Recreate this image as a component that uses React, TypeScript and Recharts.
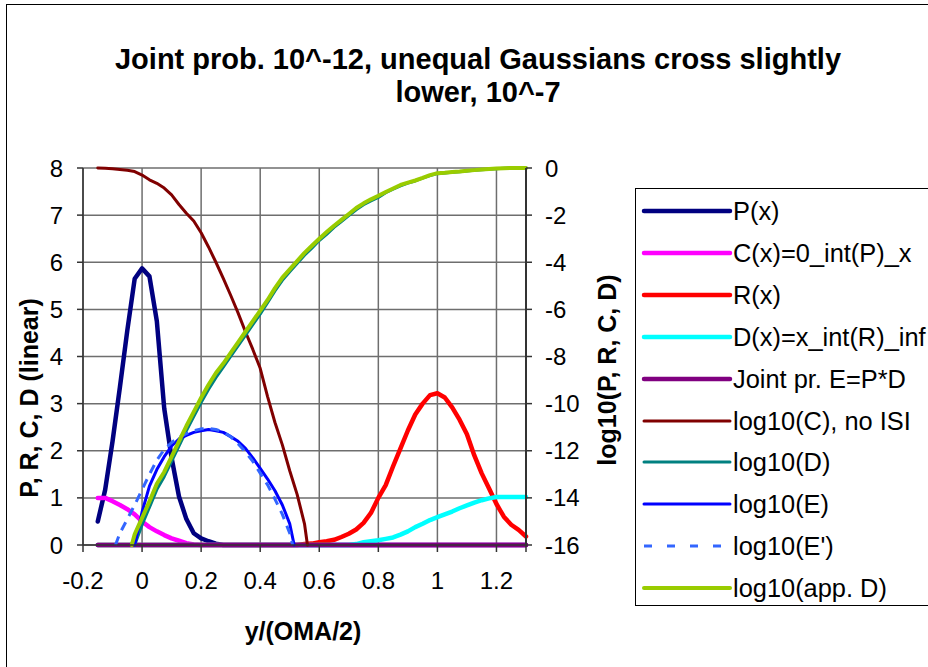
import React from 'react';
import { LineChart, Line, XAxis, YAxis, CartesianGrid } from 'recharts';

// ---- data ----
const X_TICKS = [-0.2, 0, 0.2, 0.4, 0.6, 0.8, 1, 1.2, 1.3];
const LEFT_TICKS = [0, 1, 2, 3, 4, 5, 6, 7, 8];
const RIGHT_TICKS = [-16, -14, -12, -10, -8, -6, -4, -2, 0];

const P_X = [-0.15, -0.125, -0.1, -0.075, -0.05, -0.025, 0, 0.025, 0.05, 0.075, 0.1, 0.125, 0.15, 0.175, 0.2, 0.225, 0.25, 0.275, 1.3];
const P_Y = [0.5, 1.17, 2.2, 3.35, 4.55, 5.65, 5.87, 5.7, 4.75, 2.9, 1.85, 1.03, 0.55, 0.25, 0.14, 0.08, 0.03, 0, 0];

const C_X = [-0.15, -0.125, -0.1, -0.075, -0.05, -0.025, 0, 0.025, 0.05, 0.075, 0.1, 0.125, 0.15, 0.175, 0.2, 1.3];
const C_Y = [1.0, 1.0, 0.93, 0.85, 0.76, 0.65, 0.5, 0.38, 0.29, 0.21, 0.14, 0.09, 0.04, 0.01, 0, 0];

const R_X = [-0.15, 0.525, 0.55, 0.575, 0.6, 0.625, 0.65, 0.675, 0.7, 0.725, 0.75, 0.775, 0.8, 0.825, 0.85, 0.875, 0.9, 0.925, 0.95, 0.975, 1, 1.025, 1.05, 1.075, 1.1, 1.125, 1.15, 1.175, 1.2, 1.225, 1.25, 1.275, 1.3];
const R_Y = [0, 0, 0.02, 0.03, 0.06, 0.08, 0.11, 0.17, 0.24, 0.33, 0.47, 0.68, 1.0, 1.27, 1.67, 2.05, 2.43, 2.77, 3.0, 3.18, 3.22, 3.13, 2.92, 2.66, 2.35, 1.9, 1.52, 1.2, 0.87, 0.6, 0.43, 0.32, 0.18];

const D_X = [-0.15, 0.7, 0.725, 0.75, 0.775, 0.8, 0.825, 0.85, 0.875, 0.9, 0.925, 0.95, 0.975, 1, 1.025, 1.05, 1.075, 1.1, 1.125, 1.15, 1.175, 1.2, 1.225, 1.25, 1.275, 1.3];
const D_Y = [0, 0, 0.02, 0.06, 0.08, 0.1, 0.13, 0.16, 0.22, 0.29, 0.38, 0.45, 0.53, 0.59, 0.65, 0.71, 0.78, 0.84, 0.9, 0.95, 0.99, 1.02, 1.02, 1.02, 1.02, 1.02];

const E_X = [-0.15, 1.3];
const E_Y = [0, 0];

const LOGC_X = [-0.15, -0.125, -0.1, -0.075, -0.05, -0.025, 0, 0.025, 0.05, 0.075, 0.1, 0.125, 0.15, 0.175, 0.2, 0.225, 0.25, 0.275, 0.3, 0.325, 0.35, 0.375, 0.4, 0.425, 0.45, 0.475, 0.5, 0.525, 0.55, 0.56];
const LOGC_Y = [0, -0.01, -0.03, -0.06, -0.1, -0.15, -0.3, -0.5, -0.65, -0.85, -1.14, -1.55, -1.92, -2.25, -2.75, -3.35, -4.0, -4.68, -5.4, -6.15, -6.95, -7.7, -8.5, -9.7, -10.8, -11.75, -12.85, -13.85, -15.1, -16];

const LOGD_X = [-0.025, 0, 0.025, 0.05, 0.075, 0.1, 0.125, 0.15, 0.175, 0.2, 0.225, 0.25, 0.275, 0.3, 0.325, 0.35, 0.375, 0.4, 0.425, 0.45, 0.475, 0.5, 0.525, 0.55, 0.575, 0.6, 0.625, 0.65, 0.675, 0.7, 0.725, 0.75, 0.775, 0.8, 0.825, 0.85, 0.875, 0.9, 0.925, 0.95, 0.975, 1, 1.025, 1.05, 1.075, 1.1, 1.125, 1.15, 1.175, 1.2, 1.225, 1.25, 1.275, 1.3];
const LOGD_Y = [-16, -15.15, -14.4, -13.65, -13.1, -12.45, -11.8, -11.15, -10.55, -9.95, -9.4, -8.9, -8.45, -8.0, -7.55, -7.1, -6.65, -6.2, -5.72, -5.22, -4.77, -4.4, -4.05, -3.7, -3.4, -3.08, -2.82, -2.52, -2.27, -2.02, -1.77, -1.56, -1.4, -1.25, -1.05, -0.9, -0.76, -0.64, -0.55, -0.43, -0.32, -0.24, -0.21, -0.18, -0.16, -0.13, -0.1, -0.07, -0.05, -0.03, -0.01, 0, 0, 0];

const LOGE_X = [-0.025, 0, 0.025, 0.05, 0.075, 0.1, 0.125, 0.15, 0.175, 0.2, 0.225, 0.25, 0.275, 0.3, 0.325, 0.35, 0.375, 0.4, 0.425, 0.45, 0.475, 0.5, 0.515];
const LOGE_Y = [-16, -14.6, -13.5, -12.8, -12.25, -11.8, -11.5, -11.35, -11.22, -11.15, -11.1, -11.15, -11.22, -11.4, -11.6, -11.9, -12.3, -12.75, -13.2, -13.7, -14.3, -15.1, -16];

const LOGE2_X = [-0.09, -0.075, -0.05, -0.025, 0, 0.025, 0.05, 0.075, 0.1, 0.125, 0.15, 0.175, 0.2, 0.225, 0.25, 0.275, 0.3, 0.325, 0.35, 0.375, 0.4, 0.425, 0.45, 0.475, 0.5, 0.51];
const LOGE2_Y = [-16, -15.5, -14.9, -14.3, -13.65, -13.0, -12.4, -11.95, -11.65, -11.42, -11.27, -11.15, -11.07, -11.05, -11.1, -11.2, -11.4, -11.7, -12.05, -12.45, -12.95, -13.45, -14.05, -14.7, -15.5, -16];

const LOGAPPD_X = [-0.035, -0.025, 0, 0.025, 0.05, 0.075, 0.1, 0.125, 0.15, 0.175, 0.2, 0.225, 0.25, 0.275, 0.3, 0.325, 0.35, 0.375, 0.4, 0.425, 0.45, 0.475, 0.5, 0.525, 0.55, 0.575, 0.6, 0.625, 0.65, 0.675, 0.7, 0.725, 0.75, 0.775, 0.8, 0.825, 0.85, 0.875, 0.9, 0.925, 0.95, 0.975, 1, 1.025, 1.05, 1.075, 1.1, 1.125, 1.15, 1.175, 1.2, 1.225, 1.25, 1.275, 1.3];
const LOGAPPD_Y = [-16, -15.55, -14.85, -14.15, -13.4, -12.9, -12.25, -11.6, -10.95, -10.35, -9.75, -9.2, -8.7, -8.3, -7.85, -7.4, -6.95, -6.5, -6.05, -5.6, -5.1, -4.65, -4.3, -3.95, -3.6, -3.3, -3.0, -2.72, -2.45, -2.2, -1.95, -1.7, -1.5, -1.33, -1.18, -1.02, -0.87, -0.72, -0.62, -0.53, -0.42, -0.3, -0.22, -0.2, -0.17, -0.15, -0.12, -0.09, -0.06, -0.04, -0.02, -0.01, 0, 0, 0];

type Series = {
  key: string; name: string; xs: number[]; ys: number[];
  color: string; width: number; axis: 'left' | 'right'; dash?: string; legendDash?: string;
};

const SERIES: Series[] = [
  { key: 'p', name: 'P(x)', xs: P_X, ys: P_Y, color: '#000080', width: 4.5, axis: 'left' },
  { key: 'c', name: 'C(x)=0_int(P)_x', xs: C_X, ys: C_Y, color: '#FF00FF', width: 4.5, axis: 'left' },
  { key: 'r', name: 'R(x)', xs: R_X, ys: R_Y, color: '#FF0000', width: 4.5, axis: 'left' },
  { key: 'd', name: 'D(x)=x_int(R)_inf', xs: D_X, ys: D_Y, color: '#00FFFF', width: 4.5, axis: 'left' },
  { key: 'e', name: 'Joint pr. E=P*D', xs: E_X, ys: E_Y, color: '#800080', width: 4.5, axis: 'left' },
  { key: 'logC', name: 'log10(C), no ISI', xs: LOGC_X, ys: LOGC_Y, color: '#800000', width: 3, axis: 'right' },
  { key: 'logD', name: 'log10(D)', xs: LOGD_X, ys: LOGD_Y, color: '#008080', width: 3, axis: 'right' },
  { key: 'logE', name: 'log10(E)', xs: LOGE_X, ys: LOGE_Y, color: '#0000FF', width: 3, axis: 'right' },
  { key: 'logE2', name: "log10(E')", xs: LOGE2_X, ys: LOGE2_Y, color: '#3366FF', width: 3, axis: 'right', dash: '9 7', legendDash: '8 15' },
  { key: 'logAppD', name: 'log10(app. D)', xs: LOGAPPD_X, ys: LOGAPPD_Y, color: '#99CC00', width: 4, axis: 'right' },
];

// merged table required by the chart
const buildTable = () => {
  const allX = Array.from(new Set(SERIES.flatMap((s) => s.xs))).sort((a, b) => a - b);
  return allX.map((x) => {
    const row: Record<string, number | null> = { x };
    SERIES.forEach((s) => {
      const i = s.xs.indexOf(x);
      row[s.key] = i >= 0 ? s.ys[i] : null;
    });
    return row;
  });
};
const TABLE = buildTable();

const FONT = '"Liberation Sans", Arial, sans-serif';

const Legend = () => (
  <div
    style={{
      position: 'absolute', left: 635, top: 188, width: 320, height: 418,
      border: '1px solid #000', boxSizing: 'border-box', background: '#fff', fontFamily: FONT,
    }}
  >
    {SERIES.map((s, i) => (
      <div key={s.key} style={{ position: 'absolute', left: 0, top: 22 + i * 41.9 - 15, height: 30, width: 320 }}>
        <svg width={100} height={30} style={{ position: 'absolute', left: 0, top: 0 }}>
          <line x1={8} x2={94} y1={15} y2={15} stroke={s.color} strokeWidth={s.width}
            strokeLinecap={s.dash ? 'butt' : 'round'} strokeDasharray={s.legendDash} />
        </svg>
        <span style={{ position: 'absolute', left: 97, top: 0, lineHeight: '30px', fontSize: 25.4, color: '#000', whiteSpace: 'nowrap' }}>
          {s.name}
        </span>
      </div>
    ))}
  </div>
);

export default function App() {
  return (
    <div style={{ position: 'fixed', left: 0, top: 0, width: 928, height: 667, overflow: 'hidden', background: '#fff', fontFamily: FONT }}>
      <div style={{ position: 'absolute', left: 6, top: 4, width: 1000, height: 800, borderLeft: '1px solid #000', borderTop: '1px solid #000' }} />
      <div style={{ position: 'absolute', left: 78, top: 43, width: 800, textAlign: 'center', fontWeight: 'bold', fontSize: 29, lineHeight: '33px', color: '#000' }}>
        Joint prob. 10^-12, unequal Gaussians cross slightly<br />lower, 10^-7
      </div>
      <div style={{ position: 'absolute', left: 0, top: 0 }}>
        <LineChart width={928} height={667} data={TABLE} margin={{ top: 168, right: 0, bottom: 0, left: 0 }}>
          <CartesianGrid yAxisId="left" stroke="#6e6e6e" strokeWidth={1.5} />
          <XAxis
            dataKey="x" type="number" domain={[-0.2, 1.3]} ticks={X_TICKS} interval={0}
            tickFormatter={(v: number) => (v === 1.3 ? '' : String(v))}
            height={122} tickSize={7} tickMargin={20}
            axisLine={{ stroke: '#333', strokeWidth: 1.5 }} tickLine={{ stroke: '#333', strokeWidth: 1.5 }}
            tick={{ fill: '#000', fontSize: 24, fontFamily: FONT }}
          />
          <YAxis
            yAxisId="left" orientation="left" domain={[0, 8]} ticks={LEFT_TICKS} interval={0} width={83}
            tickSize={6} tickMargin={14}
            axisLine={{ stroke: '#333', strokeWidth: 1.5 }} tickLine={{ stroke: '#333', strokeWidth: 1.5 }}
            tick={{ fill: '#000', fontSize: 24, fontFamily: FONT }}
          />
          <YAxis
            yAxisId="right" orientation="right" domain={[-16, 0]} ticks={RIGHT_TICKS} interval={0} width={402}
            tickSize={6} tickMargin={13}
            axisLine={{ stroke: '#333', strokeWidth: 2 }} tickLine={{ stroke: '#333', strokeWidth: 1.5 }}
            tick={{ fill: '#000', fontSize: 24, fontFamily: FONT }}
          />
          {SERIES.map((s) => (
            <Line
              key={s.key} yAxisId={s.axis} dataKey={s.key} name={s.name} type="linear"
              stroke={s.color} strokeWidth={s.width} strokeDasharray={s.dash}
              dot={false} activeDot={false} connectNulls isAnimationActive={false}
              strokeLinejoin="round" strokeLinecap={s.dash ? 'butt' : 'round'}
            />
          ))}
        </LineChart>
      </div>
      <div style={{ position: 'absolute', left: 29 - 150, top: 398 - 15, width: 300, height: 30, lineHeight: '30px', textAlign: 'center', transform: 'rotate(-90deg)', fontWeight: 'bold', fontSize: 25, color: '#000' }}>
        P, R, C, D (linear)
      </div>
      <div style={{ position: 'absolute', left: 607 - 150, top: 370 - 15, width: 300, height: 30, lineHeight: '30px', textAlign: 'center', transform: 'rotate(-90deg)', fontWeight: 'bold', fontSize: 25, color: '#000' }}>
        log10(P, R, C, D)
      </div>
      <div style={{ position: 'absolute', left: 303 - 150, top: 631 - 15, width: 300, height: 30, lineHeight: '30px', textAlign: 'center', fontWeight: 'bold', fontSize: 25, color: '#000' }}>
        y/(OMA/2)
      </div>
      <Legend />
    </div>
  );
}
